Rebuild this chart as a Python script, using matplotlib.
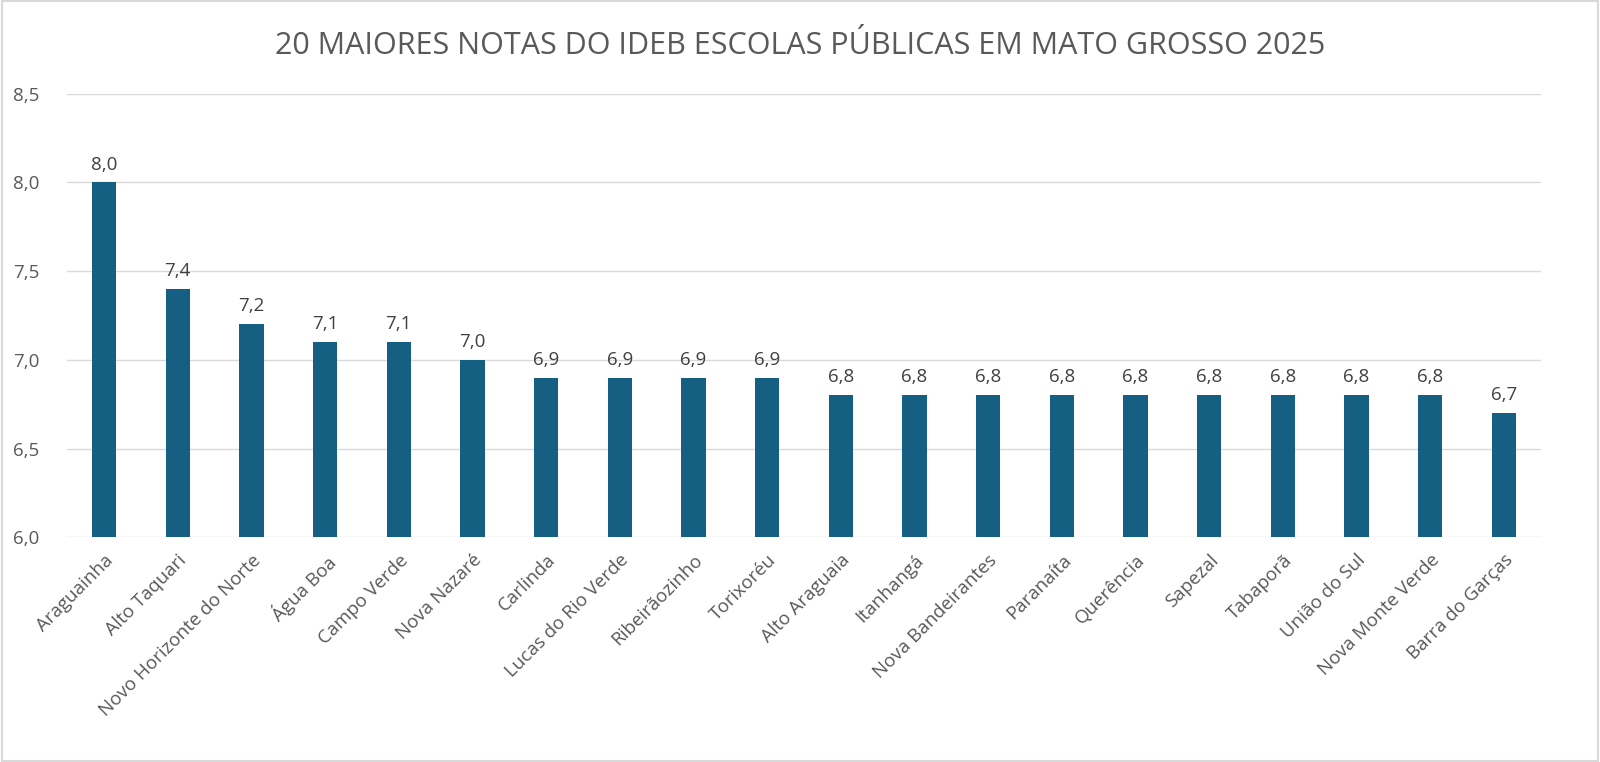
import numpy as np
import matplotlib.pyplot as plt
from matplotlib.patches import Rectangle

plt.rcParams['font.family'] = ['Open Sans', 'DejaVu Sans']

# Dados: 20 maiores notas do IDEB (escolas públicas, MT)
municipios = ['Araguainha', 'Alto Taquari', 'Novo Horizonte do Norte', 'Água Boa',
              'Campo Verde', 'Nova Nazaré', 'Carlinda', 'Lucas do Rio Verde',
              'Ribeirãozinho', 'Torixoréu', 'Alto Araguaia', 'Itanhangá',
              'Nova Bandeirantes', 'Paranaíta', 'Querência', 'Sapezal',
              'Tabaporã', 'União do Sul', 'Nova Monte Verde', 'Barra do Garças']
notas = [8.0, 7.4, 7.2, 7.1, 7.1, 7.0, 6.9, 6.9, 6.9, 6.9,
         6.8, 6.8, 6.8, 6.8, 6.8, 6.8, 6.8, 6.8, 6.8, 6.7]
yticks = [6.0, 6.5, 7.0, 7.5, 8.0, 8.5]

cor_barra = '#156082'
cor_texto = '#595959'

fig = plt.figure(figsize=(16, 7.62), dpi=100)
ax = fig.add_axes([0.042, 0.295, 0.921, 0.582])

x = np.arange(len(municipios))
ax.bar(x, notas, width=0.33, color=cor_barra, zorder=3)

for xi, v in zip(x, notas):
    ax.text(xi, v + 0.05, f'{v:.1f}'.replace('.', ','), ha='center', va='bottom',
            fontsize=13.5, color='#404040')

ax.set_xlim(-0.5, len(municipios) - 0.5)
ax.set_ylim(6.0, 8.5)
ax.set_yticks(yticks)
ax.set_yticklabels([f'{t:.1f}'.replace('.', ',') for t in yticks],
                   fontsize=13.5, color=cor_texto)
ax.set_xticks(x)
ax.set_xticklabels(municipios, rotation=45, ha='right', rotation_mode='anchor',
                   fontsize=13.5, color=cor_texto)
ax.tick_params(axis='both', length=0)
ax.tick_params(axis='y', pad=20)
ax.tick_params(axis='x', pad=10)
ax.grid(axis='y', color='#D9D9D9', linewidth=1, zorder=0)
for s in ax.spines.values():
    s.set_visible(False)

fig.text(0.5, 0.94, '20 MAIORES NOTAS DO IDEB ESCOLAS PÚBLICAS EM MATO GROSSO 2025',
         ha='center', va='center', fontsize=22, color=cor_texto)

fig.patches.append(Rectangle((0.001, 0.001), 0.998, 0.998, transform=fig.transFigure,
                             fill=False, edgecolor='#D9D9D9', linewidth=1.5))

fig.savefig('out.png', dpi=100)
